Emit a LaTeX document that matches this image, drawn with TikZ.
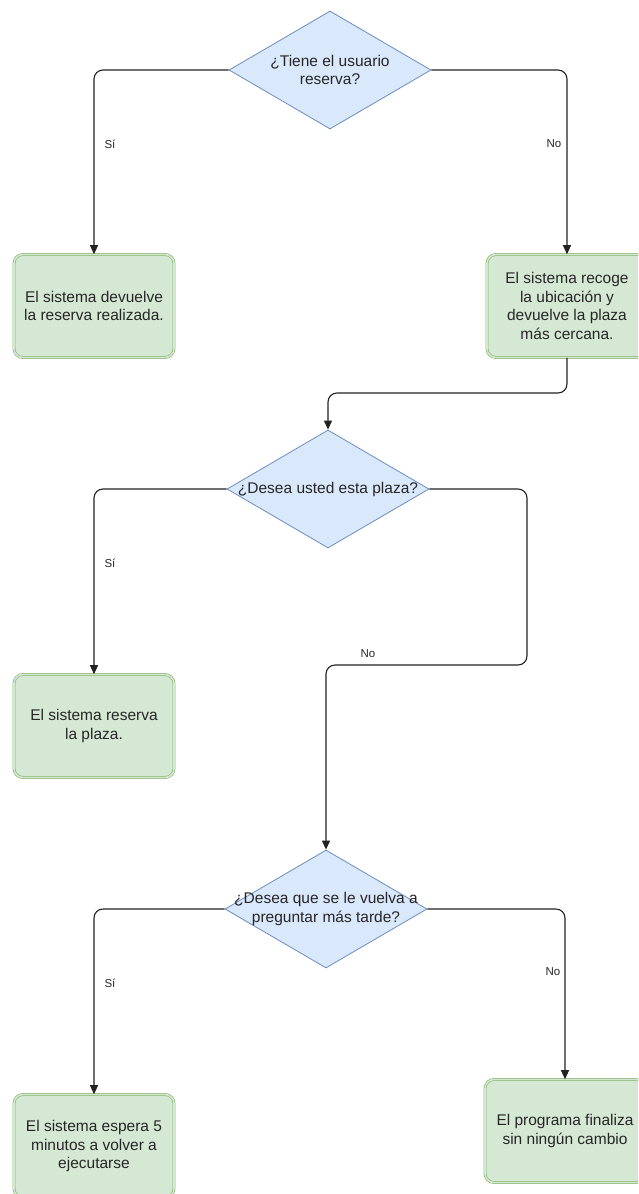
\documentclass[tikz,border=0pt]{standalone}
\usepackage{fontspec}
\setmainfont{Liberation Sans}
\usetikzlibrary{shapes.geometric,arrows.meta}
\definecolor{qfill}{HTML}{DAE8FC}
\definecolor{qline}{HTML}{6C8EBF}
\definecolor{bfill}{HTML}{D5E8D4}
\definecolor{bline}{HTML}{82B366}
\definecolor{wire}{HTML}{222222}
\tikzset{
  x=1pt, y=-1pt,
  question/.style={diamond, aspect=1.7, fill=qfill, draw=qline, line width=0.8pt,
    minimum width=202pt, minimum height=118pt, inner sep=0pt},
  qtext/.style={font=\fontsize{15.5}{18.5}\selectfont, align=center, text=black!85,
    inner sep=0pt},
  action/.style={rectangle, rounded corners=9pt, fill=bfill, draw=bline, line width=0.6pt,
    double=bfill, double distance=1.6pt,
    minimum width=160pt, minimum height=103pt, inner sep=2pt,
    font=\fontsize{15.5}{18.8}\selectfont, align=center, text=black!85},
  link/.style={draw=wire, line width=1.1pt, rounded corners=9pt,
    -{Triangle[length=9pt,width=8pt]}},
  lbl/.style={font=\fontsize{11.5}{13}\selectfont, text=black!85, fill=white, inner sep=1pt}
}
\begin{document}
\begin{tikzpicture}
\useasboundingbox (0,0) rectangle (638,1194);
\clip (0,0) rectangle (638,1194);
\fill[white] (0,0) rectangle (638,1194);

% decisions (fixed size; text may run past the corners)
\node[question, label={[qtext]center:¿Tiene el usuario\\reserva?}] (q1) at (330,70) {};
\node[question, label={[qtext]center:¿Desea usted esta plaza?}] (q2) at (328,489) {};
\node[question, label={[qtext]center:¿Desea que se le vuelva a\\preguntar más tarde?}] (q3) at (326,909) {};

% actions
\node[action] (a1) at (94,306) {El sistema devuelve\\la reserva realizada.};
\node[action] (a2) at (567,306) {El sistema recoge\\la ubicación y\\devuelve la plaza\\más cercana.};
\node[action] (a3) at (94,726) {El sistema reserva\\la plaza.};
\node[action] (a4) at (94,1146) {El sistema espera 5\\minutos a volver a\\ejecutarse};
\node[action] (a5) at (565,1131) {El programa finaliza\\sin ningún cambio};

% bend points
\coordinate (k1) at (567,393);
\coordinate (k2) at (527,665);

% connectors
\draw[link] (q1.west) -| (a1.north);
\draw[link] (q1.east) -| (a2.north);
\draw[link] (a2.south) -- (k1) -| (q2.north);
\draw[link] (q2.west) -| (a3.north);
\draw[link] (q2.east) -| (k2) -| (q3.north);
\draw[link] (q3.west) -| (a4.north);
\draw[link] (q3.east) -| (a5.north);

% branch labels
\node[lbl] (s1) at (110,144) {Sí};
\node[lbl] (n1) at (554,144) {No};
\node[lbl] (s2) at (110,563) {Sí};
\node[lbl] (n2) at (368,654) {No};
\node[lbl] (s3) at (110,983) {Sí};
\node[lbl] (n3) at (553,972) {No};
\end{tikzpicture}
\end{document}
